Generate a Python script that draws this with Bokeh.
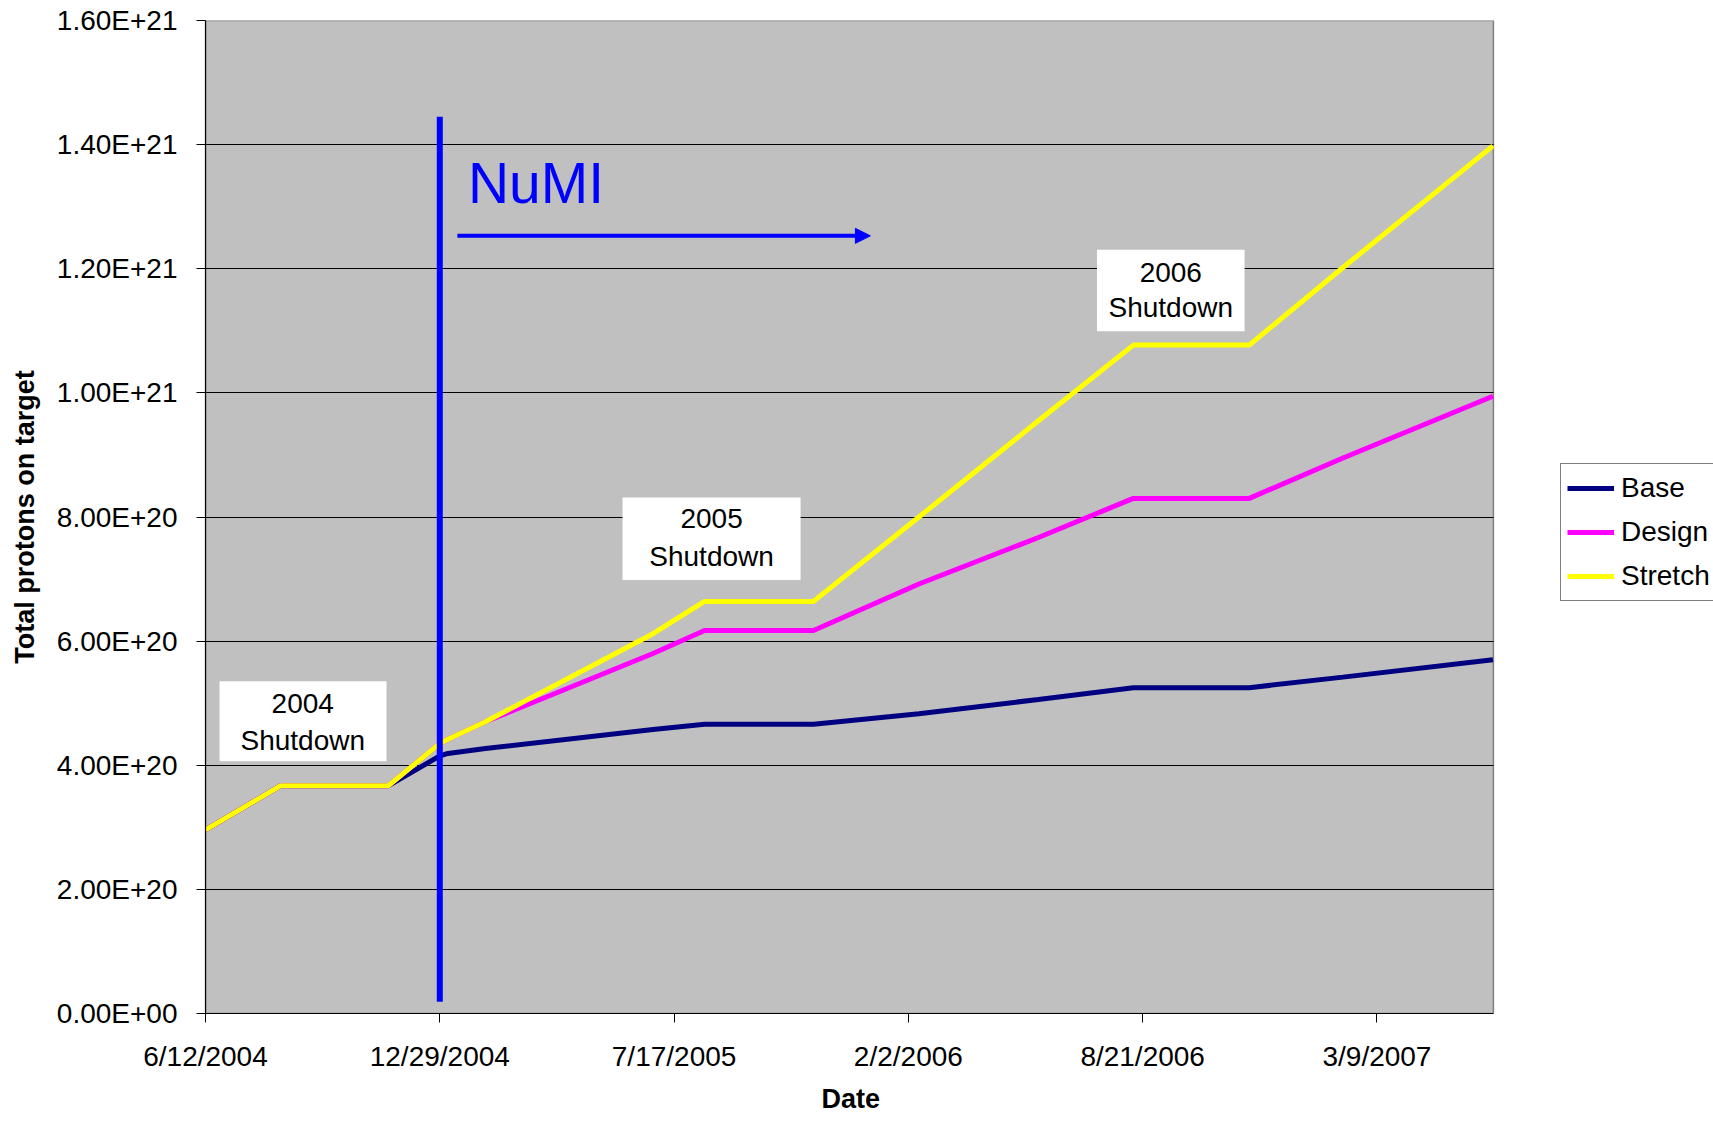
import pandas as pd
from bokeh.plotting import figure
from bokeh.models import (FixedTicker, DatetimeTickFormatter, CustomJSTickFormatter,
                          Arrow, NormalHead, Range1d, ColumnDataSource, Legend, LegendItem, Title)
from bokeh.core.properties import value
from bokeh.embed import file_html
from bokeh.resources import INLINE

# ---------------- data ----------------
dates = ["2004-06-12", "2004-08-15", "2004-11-15", "2004-12-29", "2005-01-05",
         "2005-02-06", "2005-06-29", "2005-08-12", "2005-11-13", "2006-02-11",
         "2006-05-24", "2006-08-13", "2006-11-20", "2007-02-08", "2007-06-16"]
base = [2.96e20, 3.67e20, 3.67e20, 4.15e20, 4.19e20, 4.27e20, 4.575e20, 4.66e20,
        4.66e20, 4.83e20, 5.06e20, 5.25e20, 5.25e20, 5.42e20, 5.70e20]
design = [2.96e20, 3.67e20, 3.67e20, 4.35e20, 4.42e20, 4.70e20, 5.80e20, 6.17e20,
          6.17e20, 6.92e20, 7.67e20, 8.30e20, 8.30e20, 8.95e20, 9.945e20]
stretch = [2.96e20, 3.67e20, 3.67e20, 4.35e20, 4.42e20, 4.70e20, 6.12e20, 6.64e20,
           6.64e20, 8.00e20, 9.55e20, 1.077e21, 1.077e21, 1.202e21, 1.398e21]

series_names = ["Base", "Design", "Stretch"]
series_colors = ["#000080", "#FF00FF", "#FFFF00"]

x_tick_dates = ["2004-06-12", "2004-12-29", "2005-07-17", "2006-02-02",
                "2006-08-21", "2007-03-09"]
y_ticks = [0.0, 2e20, 4e20, 6e20, 8e20, 1.0e21, 1.2e21, 1.4e21, 1.6e21]
x_start, plot_end = "2004-06-12", "2007-06-16 10:00"   # shaded plot area
view_end = "2007-12-21 07:00"                           # room on the right for the legend
y_start, y_end = 0.0, 1.6e21

# annotation boxes (shutdowns)
box_left = ["2004-06-24", "2005-06-03", "2006-07-13"]
box_right = ["2004-11-13 12:00", "2005-11-02", "2006-11-16"]
box_top = [5.352e20, 8.314e20, 1.2306e21]
box_bottom = [4.065e20, 6.983e20, 1.0991e21]
label_x = ["2004-09-03", "2004-09-03", "2005-08-18", "2005-08-18", "2006-09-14", "2006-09-14"]
label_y = [5.003e20, 4.402e20, 7.976e20, 7.364e20, 1.1941e21, 1.1377e21]
label_text = ["2004", "Shutdown", "2005", "Shutdown", "2006", "Shutdown"]

# NuMI marker
numi_date = "2004-12-29"
numi_y0, numi_y1 = 1.9e19, 1.445e21
numi_text_x, numi_text_y = "2005-01-22", 1.3377e21
numi_arrow_x0, numi_arrow_x1, numi_arrow_y = "2005-01-13", "2005-12-31 14:00", 1.253e21


def ms(s):
    return pd.Timestamp(s).value / 1e6


FONT = "Liberation Sans"

p = figure(width=1713, height=1121, x_axis_type="datetime",
           x_range=Range1d(ms(x_start), ms(view_end)), y_range=Range1d(y_start, y_end),
           output_backend="svg", toolbar_location=None,
           min_border_left=205, min_border_right=0, min_border_top=20, min_border_bottom=108)

p.background_fill_color = "white"
p.border_fill_color = "white"
p.outline_line_color = None

# shaded plot area
p.quad(left=[ms(x_start)], right=[ms(plot_end)], top=[y_end], bottom=[y_start],
       fill_color="#C0C0C0", line_color="#808080", line_width=1.5, level="image")

# grid
p.xgrid.grid_line_color = None
p.ygrid.grid_line_color = "#000000"
p.ygrid.grid_line_width = 1
p.ygrid.ticker = FixedTicker(ticks=y_ticks[1:-1])
if "cross_bounds" in p.ygrid[0].properties():
    p.ygrid.cross_bounds = (ms(x_start), ms(plot_end))
else:
    p.ygrid.grid_line_color = None
    p.segment(x0=[ms(x_start)] * 7, x1=[ms(plot_end)] * 7, y0=y_ticks[1:-1], y1=y_ticks[1:-1],
              line_color="#000000", line_width=1, level="underlay")

# axes
p.xaxis.ticker = FixedTicker(ticks=[ms(d) for d in x_tick_dates])
p.xaxis.formatter = DatetimeTickFormatter(days="%-m/%-d/%Y", months="%-m/%-d/%Y",
                                          years="%-m/%-d/%Y")
p.xaxis.bounds = (ms(x_start), ms(plot_end))
p.yaxis.ticker = FixedTicker(ticks=y_ticks)
p.yaxis.formatter = CustomJSTickFormatter(code="""
const s = tick.toExponential(2);
const parts = s.split('e');
const sign = parts[1][0];
let d = parts[1].slice(1);
if (d.length < 2) { d = '0' + d; }
return parts[0] + 'E' + sign + d;
""")

for ax in (p.xaxis[0], p.yaxis[0]):
    ax.axis_line_color = "#000000"
    ax.axis_line_width = 1.2
    ax.major_tick_line_color = "#000000"
    ax.major_tick_in = 0
    ax.major_tick_out = 9
    ax.minor_tick_line_color = None
    ax.major_label_text_font = FONT
    ax.major_label_text_font_size = "28px"
    ax.major_label_text_color = "#000000"
    ax.axis_label_text_font = FONT
    ax.axis_label_text_font_size = "27px"
    ax.axis_label_text_font_style = "bold"
    ax.axis_label_text_color = "#000000"

p.yaxis.axis_label = "Total protons on target"
p.xaxis.major_label_standoff = 18
p.yaxis.major_label_standoff = 19
p.yaxis.axis_label_standoff = 14

# x-axis title, centred under the shaded plot area
p.add_layout(Title(text="Date", align="left", offset=616, standoff=14,
                   text_font=FONT, text_font_size="27px", text_font_style="bold",
                   text_color="#000000"), "below")

# shutdown label boxes
box_src = ColumnDataSource(dict(left=[ms(v) for v in box_left], right=[ms(v) for v in box_right],
                                top=box_top, bottom=box_bottom))
p.quad(left="left", right="right", top="top", bottom="bottom", source=box_src,
       fill_color="white", line_color=None)
lab_src = ColumnDataSource(dict(x=[ms(v) for v in label_x], y=label_y, text=label_text))
p.text(x="x", y="y", text="text", source=lab_src, text_font=value(FONT),
       text_font_size=value("28px"), text_align="center", text_baseline="middle",
       text_color="#000000")

# data lines
src = ColumnDataSource(dict(date=[ms(d) for d in dates], Base=base, Design=design, Stretch=stretch))
renderers = []
for name, col in zip(series_names, series_colors):
    r = p.line(x="date", y=name, source=src, line_color=col, line_width=5)
    renderers.append(r)

# NuMI marker
p.segment(x0=[ms(numi_date)], y0=[numi_y0], x1=[ms(numi_date)], y1=[numi_y1],
          line_color="#0000FF", line_width=6)
p.text(x=[ms(numi_text_x)], y=[numi_text_y], text=["NuMI"], text_font=value(FONT),
       text_font_size=value("57px"), text_color="#0000FF", text_align="left",
       text_baseline="middle")
p.add_layout(Arrow(x_start=ms(numi_arrow_x0), y_start=numi_arrow_y,
                   x_end=ms(numi_arrow_x1), y_end=numi_arrow_y,
                   line_color="#0000FF", line_width=4,
                   end=NormalHead(size=15, fill_color="#0000FF", line_color="#0000FF")))

# legend (right of the shaded plot area)
lg = Legend(items=[LegendItem(label=n, renderers=[r]) for n, r in zip(series_names, renderers)],
            location=(1355, 412))
lg.background_fill_color = "white"
lg.background_fill_alpha = 1.0
lg.border_line_color = "#000000"
lg.border_line_width = 1
lg.label_text_font = FONT
lg.label_text_font_size = "28px"
lg.label_text_color = "#000000"
lg.glyph_width = 47
lg.glyph_height = 36
lg.label_height = 36
lg.spacing = 8
lg.padding = 6
lg.margin = 0
lg.label_standoff = 7
p.add_layout(lg)

open("out.html", "w").write(file_html(p, INLINE))
